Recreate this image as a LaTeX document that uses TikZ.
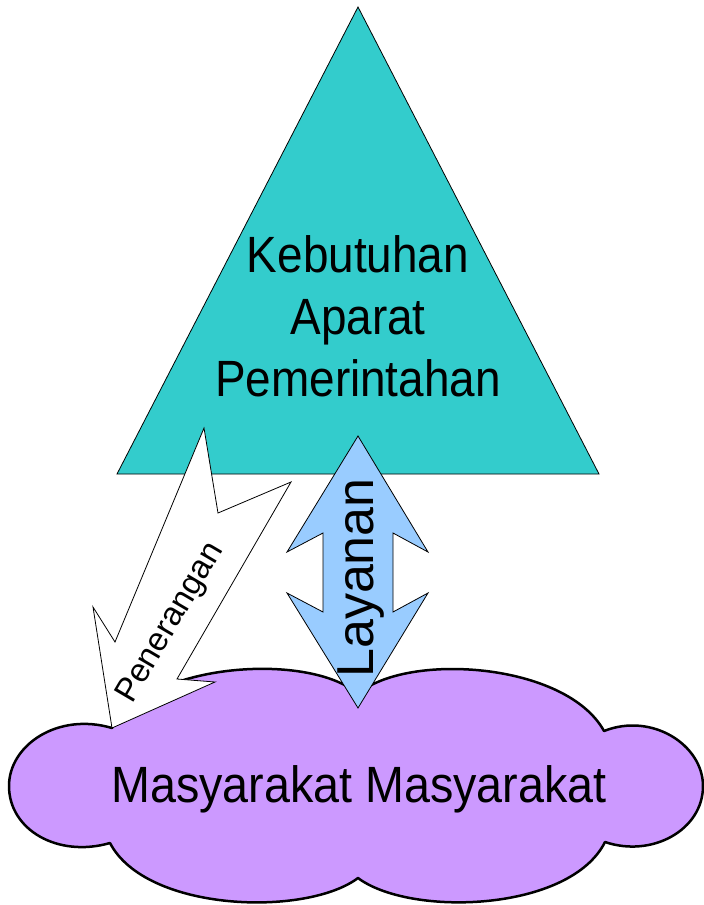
\documentclass[tikz,border=0pt]{standalone}
\usepackage{fontspec}
\setmainfont{Liberation Sans}
\newfontfamily\condfont[FakeStretch=0.9]{Liberation Sans}
\newfontfamily\condfontb[FakeStretch=0.915]{Liberation Sans}
\definecolor{teal1}{HTML}{33CCCC}
\definecolor{blue1}{HTML}{99CCFF}
\definecolor{purple1}{HTML}{CC99FF}
\tikzset{
  shapeline/.style={draw=black, line width=0.8pt, line join=miter},
  bigtext/.style={inner sep=0pt, anchor=base, font=\condfont\fontsize{51}{62}\selectfont},
  cloudtext/.style={inner sep=0pt, anchor=base, font=\condfontb\fontsize{51}{62}\selectfont},
  vtext/.style={inner sep=0pt, anchor=base west, font=\fontsize{52}{60}\selectfont},
  ptext/.style={inner sep=0pt, anchor=base west, font=\fontsize{33}{38}\selectfont},
}
\begin{document}
\begin{tikzpicture}[x=1pt,y=-1pt]
\useasboundingbox (0,0) rectangle (704,905);
\fill[white] (0,0) rectangle (704,905);
% triangle
\coordinate (apex) at (358,7);
\coordinate (bl) at (117,474);
\coordinate (br) at (599,474);
\draw[shapeline, fill=teal1] (apex) -- (br) -- (bl) -- cycle;
% cloud
\draw[fill=purple1, draw=black, line width=2.5pt, line join=round]
  (112,728) .. controls (150,662) and (310,652) .. (358,694)
  .. controls (406,652) and (566,662) .. (604,731)
  .. controls (652,712) and (703,745) .. (703,786)
  .. controls (703,830) and (652,858) .. (605,842)
  .. controls (570,912) and (410,917) .. (358,878)
  .. controls (306,917) and (146,912) .. (110,843)
  .. controls (58,858) and (9,830) .. (9,786)
  .. controls (9,745) and (58,712) .. (112,728) -- cycle;
% Layanan double arrow
\draw[shapeline, fill=blue1]
  (358,436) -- (428,552) -- (393,533) -- (393,612) -- (428,593) -- (358,708)
  -- (287,593) -- (323,612) -- (323,533) -- (287,552) -- cycle;
% Penerangan arrow
\draw[shapeline, fill=white]
  (204,428) -- (218,513) -- (291,482) -- (177,679) -- (215,682) -- (112,728)
  -- (93,607) -- (115,642) -- cycle;
% texts
\node[bigtext] (k1) at (358,272) {Kebutuhan};
\node[bigtext] (k2) at (358,334) {Aparat};
\node[bigtext] (k3) at (358,396) {Pemerintahan};
\node[cloudtext] (m) at (359,802) {Masyarakat Masyarakat};
\node[vtext, rotate=90] (lay) at (373,678) {Layanan};
\node[ptext, rotate=59.5] (pen) at (132,705) {Penerangan};
\end{tikzpicture}
\end{document}
